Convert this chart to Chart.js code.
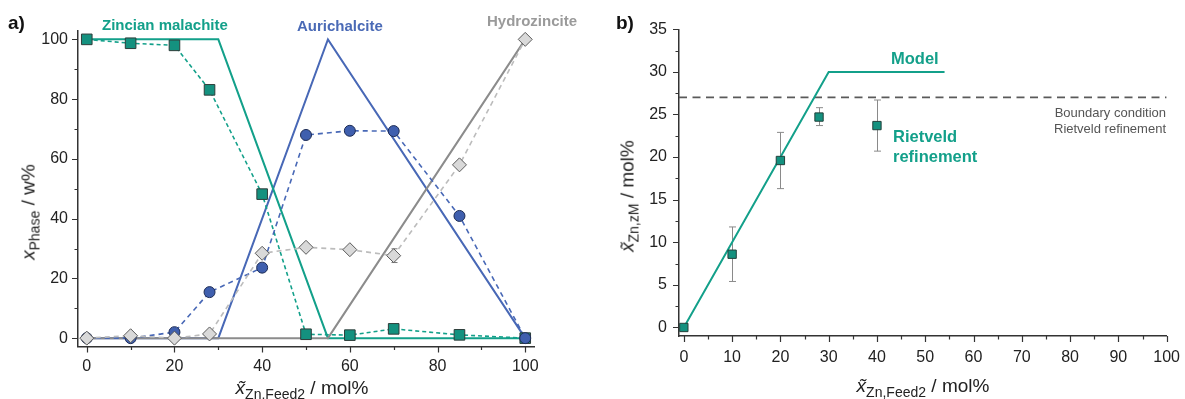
<!DOCTYPE html>
<html>
<head>
<meta charset="utf-8">
<script src="https://cdn.jsdelivr.net/npm/chart.js@4.4.1/dist/chart.umd.min.js"></script>
<style>
  body { margin: 0; background: #fff; }
  #fig { position: relative; width: 1185px; height: 399px; overflow: hidden;
         font-family: "Liberation Sans", Arial, sans-serif; background: #fff; }
  canvas { position: absolute; top: 0; }
  .lbl { position: absolute; white-space: nowrap; line-height: 1; }
  .b { font-weight: bold; }
  .ax { position: absolute; white-space: nowrap; line-height: 1; font-size: 19px; color: #222; }
  .ax i { font-style: italic; }
  .ax sub { font-size: 14px; vertical-align: baseline; position: relative; top: 5px; }
  .h { transform: translateX(-50%); }
  .v { transform: translate(-50%, -50%) rotate(-90deg); }
</style>
</head>
<body>
<div id="fig">
  <canvas id="phase" width="560" height="399" style="left:0px;width:560px;height:399px"></canvas>
  <canvas id="zinc" width="595" height="399" style="left:590px;width:595px;height:399px"></canvas>

  <div class="lbl b" style="left:8px;top:13px;font-size:19px;color:#111">a)</div>
  <div class="lbl b" style="left:102px;top:17px;font-size:15px;color:#13a08a">Zincian malachite</div>
  <div class="lbl b" style="left:297px;top:18px;font-size:15px;color:#4a6ab6">Aurichalcite</div>
  <div class="lbl b" style="left:487px;top:13px;font-size:15px;color:#9a9a9a">Hydrozincite</div>

  <div class="lbl b" style="left:616px;top:13px;font-size:19px;color:#111">b)</div>
  <div class="lbl b" style="left:891px;top:50px;font-size:16.5px;color:#13a08a">Model</div>
  <div class="lbl b" style="left:893px;top:128px;font-size:16.5px;color:#13a08a">Rietveld</div>
  <div class="lbl b" style="left:893px;top:148px;font-size:16.5px;color:#13a08a">refinement</div>
  <div class="lbl" style="right:19px;top:106px;font-size:13px;color:#555;text-align:right">Boundary condition</div>
  <div class="lbl" style="right:19px;top:122px;font-size:13px;color:#555;text-align:right">Rietveld refinement</div>

  <div class="ax h" style="left:302px;top:378px"><i>x&#771;</i><sub>Zn,Feed2</sub> / mol%</div>
  <div class="ax h" style="left:923px;top:376px"><i>x&#771;</i><sub>Zn,Feed2</sub> / mol%</div>
  <div class="ax v" style="left:27.5px;top:212px"><i>x</i><sub>Phase</sub> / w%</div>
  <div class="ax v" style="left:626.5px;top:196px"><i>x&#771;</i><sub>Zn,zM</sub> / mol%</div>
</div>

<script>
// ---- Panel a: phase composition vs. Zn content of feed 2 ----
const feedZn = [0, 10, 20, 28, 40, 50, 60, 70, 85, 100];
const malachiteW = [100, 98.7, 98, 83.1, 48.2, 1.3, 1.0, 3.1, 1.1, 0];
const aurichalciteW = [0, 0, 2.0, 15.4, 23.6, 68.0, 69.4, 69.3, 40.9, 0];
const hydrozinciteW = [0, 0.8, 0, 1.4, 28.4, 30.4, 29.6, 27.6, 58, 100];
const hydrozinciteErr = [0, 0, 0, 0, 0, 0, 0, 2.3, 0, 0];

const modelMalachiteX = [0, 30, 55, 100];
const modelMalachiteW = [100, 100, 0, 0];
const modelAurichalciteX = [0, 30, 55, 100];
const modelAurichalciteW = [0, 0, 100, 0];
const modelHydrozinciteX = [0, 55, 100];
const modelHydrozinciteW = [0, 0, 100];

const phaseTicksX = [0, 20, 40, 60, 80, 100];
const phaseTicksY = [0, 20, 40, 60, 80, 100];

// ---- Panel b: Zn content of zincian malachite ----
const rietveldFeed = [0, 10, 20, 28, 40];
const rietveldZn = [0, 8.6, 19.6, 24.7, 23.7];
const rietveldLow = [0, 5.4, 16.3, 23.7, 20.7];
const rietveldHigh = [0, 11.8, 22.9, 25.8, 26.7];
const modelFeed = [0, 30, 54];
const modelZn = [0, 30, 30];
const boundaryFeed = [-1, 100];
const boundaryZn = [27, 27];

const zincTicksX = [0, 10, 20, 30, 40, 50, 60, 70, 80, 90, 100];
const zincTicksY = [0, 5, 10, 15, 20, 25, 30, 35];

// colours
const TEAL = '#13a08a', TEAL_FILL = '#14917f';
const BLUE = '#4868b6', BLUE_FILL = '#3f5fae';
const GREY = '#8c8c8c', GREY_LIGHT = '#bcbcbc', GREY_FILL = '#d9d9d9';

Chart.defaults.font.family = '"Liberation Sans", Arial, sans-serif';
Chart.defaults.font.size = 16;
Chart.defaults.color = '#222';

const pts = (xs, ys) => xs.map((v, i) => ({ x: v, y: ys[i] }));

// outward major/minor tick marks along the bottom and left axis lines
function axisTicks(spec) {
  return {
    id: 'axisTicks',
    afterDraw(chart) {
      const { ctx, chartArea: ca, scales } = chart;
      ctx.save();
      ctx.strokeStyle = '#333';
      ctx.lineWidth = 1.2;
      ctx.beginPath();
      const steps = (s) => {
        const out = [];
        const n = Math.round((s.to - s.from) / s.minor);
        for (let k = 0; k <= n; k++) out.push(s.from + k * s.minor);
        return out;
      };
      steps(spec.x).forEach(v => {
        const major = Math.abs(v / spec.x.major - Math.round(v / spec.x.major)) < 1e-6;
        const px = Math.round(scales.x.getPixelForValue(v)) + 0.5;
        ctx.moveTo(px, ca.bottom);
        ctx.lineTo(px, ca.bottom + (major ? 6 : 3.5));
      });
      steps(spec.y).forEach(v => {
        const major = Math.abs(v / spec.y.major - Math.round(v / spec.y.major)) < 1e-6;
        const py = Math.round(scales.y.getPixelForValue(v)) + 0.5;
        ctx.moveTo(ca.left, py);
        ctx.lineTo(ca.left - (major ? 6 : 3.5), py);
      });
      ctx.stroke();
      ctx.restore();
    }
  };
}

// vertical error bars with caps
function errorBars(xs, lo, hi, color, cap) {
  return {
    id: 'errorBars',
    beforeDatasetsDraw(chart) {
      const { ctx, scales } = chart;
      ctx.save();
      ctx.strokeStyle = color;
      ctx.lineWidth = 1;
      ctx.beginPath();
      xs.forEach((xv, i) => {
        if (hi[i] - lo[i] <= 0) return;
        const px = Math.round(scales.x.getPixelForValue(xv)) + 0.5;
        const p1 = scales.y.getPixelForValue(lo[i]);
        const p2 = scales.y.getPixelForValue(hi[i]);
        ctx.moveTo(px, p1); ctx.lineTo(px, p2);
        ctx.moveTo(px - cap, p1); ctx.lineTo(px + cap, p1);
        ctx.moveTo(px - cap, p2); ctx.lineTo(px + cap, p2);
      });
      ctx.stroke();
      ctx.restore();
    }
  };
}

function axis(min, max, tickValues, width, height, pad, tl) {
  return {
    type: 'linear', min, max,
    afterBuildTicks: s => { s.ticks = tickValues.map(v => ({ value: v })); },
    afterFit: s => { if (width != null) s.width = width; if (height != null) s.height = height; },
    grid: { display: true, drawOnChartArea: false, drawTicks: true, tickLength: tl, tickColor: 'rgba(0,0,0,0)' },
    border: { display: true, color: '#333', width: 1.5 },
    ticks: { padding: pad, color: '#222', font: { size: 16 }, maxRotation: 0, autoSkip: false }
  };
}

const baseOpts = {
  responsive: false,
  animation: false,
  devicePixelRatio: 1,
  plugins: { legend: { display: false }, tooltip: { enabled: false } },
  events: []
};

// Panel a
const hydroLo = hydrozinciteW.map((v, i) => v - hydrozinciteErr[i]);
const hydroHi = hydrozinciteW.map((v, i) => v + hydrozinciteErr[i]);

new Chart(document.getElementById('phase'), {
  type: 'scatter',
  data: {
    datasets: [
      { data: pts(modelAurichalciteX, modelAurichalciteW), showLine: true, borderColor: BLUE, borderWidth: 2, pointRadius: 0, order: 10 },
      { data: pts(modelMalachiteX, modelMalachiteW), showLine: true, borderColor: TEAL, borderWidth: 2, pointRadius: 0, order: 9 },
      { data: pts(modelHydrozinciteX, modelHydrozinciteW), showLine: true, borderColor: GREY, borderWidth: 2, pointRadius: 0, order: 8 },
      { data: pts(feedZn, malachiteW), showLine: true, borderColor: TEAL, borderWidth: 1.6, borderDash: [4, 3], pointRadius: 0, order: 7 },
      { data: pts(feedZn, aurichalciteW), showLine: true, borderColor: BLUE, borderWidth: 1.6, borderDash: [5, 4], pointRadius: 0, order: 6 },
      { data: pts(feedZn, hydrozinciteW), showLine: true, borderColor: GREY_LIGHT, borderWidth: 1.6, borderDash: [5, 4], pointRadius: 0, order: 5 },
      { data: pts(feedZn, malachiteW), showLine: false, pointStyle: 'rect', pointRadius: 7.5, backgroundColor: TEAL_FILL, borderColor: '#2e3d3a', borderWidth: 1, order: 3, clip: false },
      { data: pts(feedZn, aurichalciteW), showLine: false, pointStyle: 'circle', pointRadius: 5.5, backgroundColor: BLUE_FILL, borderColor: '#1d2c55', borderWidth: 1, order: 2, clip: false },
      { data: pts(feedZn, hydrozinciteW), showLine: false, pointStyle: 'rectRot', pointRadius: 7, backgroundColor: GREY_FILL, borderColor: '#5a5a5a', borderWidth: 1, order: 1, clip: false }
    ]
  },
  options: Object.assign({}, baseOpts, {
    layout: { padding: { left: 0, top: 31, right: 26, bottom: 0 } },
    scales: {
      x: axis(-2, 102, phaseTicksX, null, 52.5, 3, 7),
      y: axis(-2.8, 102.8, phaseTicksY, 78, null, 3, 7)
    }
  }),
  plugins: [
    axisTicks({ x: { from: 0, to: 100, major: 20, minor: 10 }, y: { from: 0, to: 100, major: 20, minor: 10 } }),
    errorBars(feedZn, hydroLo, hydroHi, '#777', 3)
  ]
});

// Panel b
new Chart(document.getElementById('zinc'), {
  type: 'scatter',
  data: {
    datasets: [
      { data: pts(boundaryFeed, boundaryZn), showLine: true, borderColor: '#5a5a5a', borderWidth: 1.8, borderDash: [8, 5.5], pointRadius: 0, order: 5 },
      { data: pts(modelFeed, modelZn), showLine: true, borderColor: TEAL, borderWidth: 2, pointRadius: 0, order: 4 },
      { data: pts(rietveldFeed, rietveldZn), showLine: false, pointStyle: 'rect', pointRadius: 5.9, backgroundColor: TEAL_FILL, borderColor: '#22403b', borderWidth: 1, order: 1, clip: false }
    ]
  },
  options: Object.assign({}, baseOpts, {
    layout: { padding: { left: 0, top: 29.3, right: 16.3, bottom: 0 } },
    scales: {
      x: axis(-1, 100, zincTicksX, null, 63, 5, 7),
      y: axis(-1, 35, zincTicksY, 89, null, 5, 7)
    }
  }),
  plugins: [
    axisTicks({ x: { from: 0, to: 100, major: 10, minor: 5 }, y: { from: 0, to: 35, major: 5, minor: 2.5 } }),
    errorBars(rietveldFeed, rietveldLow, rietveldHigh, '#8a8a8a', 3.5)
  ]
});
</script>
</body>
</html>
